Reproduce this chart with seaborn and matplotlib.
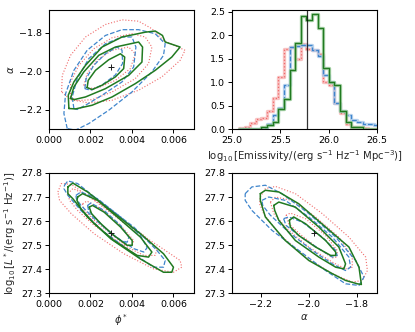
import matplotlib
matplotlib.use("Agg")
import matplotlib.pyplot as plt
import seaborn as sns
import numpy as np

# ------ DATA ------ #

truth = {"phi": 0.003, "alpha": -1.98, "logL": 27.55, "emis": 25.77}

bin_edges = [25.072, 25.130, 25.188, 25.246, 25.304, 25.362, 25.420, 25.478,
             25.536, 25.594, 25.652, 25.710, 25.768, 25.826, 25.884, 25.942,
             26.000, 26.058, 26.116, 26.174, 26.232, 26.290, 26.348, 26.406,
             26.464, 26.522]
hist_green = [0, 0, 0, 0.01, 0.04, 0.09, 0.16, 0.42, 0.65, 1.27, 1.84, 2.42, 2.33,
              2.46, 2.15, 1.30, 1.00, 0.95, 0.38, 0.15, 0.04, 0.04, 0, 0, 0]
hist_blue = [0, 0, 0, 0.01, 0.03, 0.10, 0.30, 0.45, 0.95, 1.75, 1.78, 1.80, 1.80,
             1.68, 1.55, 1.15, 1.00, 0.55, 0.38, 0.30, 0.20, 0.15, 0.12, 0.10, 0.08]
hist_red = [0.03, 0.05, 0.13, 0.22, 0.24, 0.38, 0.66, 1.12, 1.72, 1.75, 1.50, 1.82,
            1.72, 1.68, 1.60, 1.00, 0.95, 0.55, 0.35, 0.10, 0.05, 0.04, 0.02, 0, 0]

# contour outlines (inner, middle, outer)

# phi* vs alpha
pa_green = [
    [(0.00184, -2.084), (0.00189, -2.047), (0.00224, -1.995), (0.00288, -1.940), (0.00344, -1.909),
     (0.00365, -1.926), (0.00360, -1.986), (0.00320, -2.029), (0.00256, -2.072), (0.00208, -2.095)],
    [(0.00104, -2.141), (0.00120, -2.081), (0.00168, -2.003), (0.00240, -1.917), (0.00320, -1.874),
     (0.00432, -1.848), (0.00451, -1.874), (0.00448, -1.952), (0.00384, -2.021), (0.00272, -2.090),
     (0.00176, -2.133), (0.00120, -2.147)],
    [(0.00096, -2.193), (0.00093, -2.124), (0.00120, -2.055), (0.00176, -1.969), (0.00256, -1.874),
     (0.00352, -1.822), (0.00464, -1.797), (0.00512, -1.791), (0.00547, -1.814), (0.00560, -1.848),
     (0.00632, -1.874), (0.00592, -1.926), (0.00512, -1.995), (0.00416, -2.064), (0.00304, -2.133),
     (0.00208, -2.176), (0.00128, -2.195)],
]
pa_blue = [
    [(0.00173, -2.090), (0.00179, -2.038), (0.00216, -1.969), (0.00272, -1.909), (0.00328, -1.874),
     (0.00352, -1.890), (0.00355, -1.959), (0.00320, -2.019), (0.00256, -2.071), (0.00200, -2.098)],
    [(0.00120, -2.193), (0.00112, -2.133), (0.00136, -2.038), (0.00192, -1.934), (0.00272, -1.857),
     (0.00352, -1.822), (0.00400, -1.822), (0.00419, -1.874), (0.00408, -1.978), (0.00352, -2.055),
     (0.00256, -2.124), (0.00176, -2.176), (0.00136, -2.198)],
    [(0.00088, -2.297), (0.00072, -2.219), (0.00080, -2.116), (0.00120, -1.995), (0.00184, -1.891),
     (0.00272, -1.814), (0.00352, -1.784), (0.00432, -1.784), (0.00512, -1.805), (0.00560, -1.857),
     (0.00552, -1.917), (0.00496, -2.003), (0.00400, -2.107), (0.00288, -2.202), (0.00192, -2.271),
     (0.00128, -2.305)],
]
pa_red = [
    [(0.00168, -2.072), (0.00184, -2.012), (0.00232, -1.943), (0.00304, -1.891), (0.00384, -1.874),
     (0.00416, -1.909), (0.00392, -1.986), (0.00320, -2.047), (0.00240, -2.084), (0.00184, -2.090)],
    [(0.00104, -2.133), (0.00104, -2.055), (0.00144, -1.969), (0.00216, -1.883), (0.00304, -1.826),
     (0.00400, -1.805), (0.00464, -1.822), (0.00496, -1.874), (0.00480, -1.960), (0.00416, -2.038),
     (0.00304, -2.107), (0.00208, -2.147), (0.00136, -2.152)],
    [(0.00061, -2.107), (0.00064, -2.021), (0.00104, -1.917), (0.00176, -1.822), (0.00272, -1.757),
     (0.00352, -1.733), (0.00432, -1.740), (0.00496, -1.779), (0.00552, -1.840), (0.00656, -1.891),
     (0.00632, -1.943), (0.00544, -2.029), (0.00432, -2.098), (0.00304, -2.150), (0.00192, -2.164),
     (0.00104, -2.147)],
]

# phi* vs log L*
pl_green = [
    [(0.00194, 27.658), (0.00210, 27.665), (0.00266, 27.637), (0.00345, 27.575), (0.00401, 27.519),
     (0.00401, 27.499), (0.00377, 27.499), (0.00313, 27.540), (0.00250, 27.589), (0.00205, 27.631)],
    [(0.00138, 27.700), (0.00162, 27.714), (0.00234, 27.686), (0.00329, 27.617), (0.00441, 27.533),
     (0.00496, 27.471), (0.00480, 27.450), (0.00425, 27.457), (0.00313, 27.519), (0.00218, 27.589),
     (0.00154, 27.651), (0.00135, 27.686)],
    [(0.00091, 27.742), (0.00115, 27.758), (0.00186, 27.721), (0.00298, 27.644), (0.00441, 27.547),
     (0.00552, 27.464), (0.00600, 27.408), (0.00592, 27.387), (0.00552, 27.387), (0.00441, 27.442),
     (0.00298, 27.526), (0.00186, 27.616), (0.00115, 27.693), (0.00091, 27.714)],
]
pl_blue = [
    [(0.00186, 27.665), (0.00202, 27.675), (0.00266, 27.644), (0.00345, 27.582), (0.00385, 27.533),
     (0.00377, 27.512), (0.00345, 27.519), (0.00282, 27.561), (0.00226, 27.610), (0.00191, 27.644)],
    [(0.00130, 27.707), (0.00154, 27.721), (0.00234, 27.693), (0.00345, 27.617), (0.00441, 27.540),
     (0.00473, 27.489), (0.00457, 27.471), (0.00409, 27.485), (0.00313, 27.540), (0.00218, 27.610),
     (0.00154, 27.665), (0.00132, 27.693)],
    [(0.00075, 27.749), (0.00091, 27.767), (0.00138, 27.756), (0.00250, 27.679), (0.00409, 27.575),
     (0.00520, 27.478), (0.00560, 27.436), (0.00552, 27.408), (0.00504, 27.408), (0.00409, 27.464),
     (0.00266, 27.554), (0.00154, 27.644), (0.00091, 27.707), (0.00072, 27.735)],
]
pl_red = [
    [(0.00162, 27.672), (0.00183, 27.683), (0.00250, 27.651), (0.00345, 27.582), (0.00409, 27.519),
     (0.00401, 27.499), (0.00369, 27.499), (0.00298, 27.547), (0.00218, 27.603), (0.00170, 27.644)],
    [(0.00091, 27.714), (0.00115, 27.735), (0.00186, 27.707), (0.00313, 27.631), (0.00457, 27.540),
     (0.00520, 27.485), (0.00512, 27.457), (0.00457, 27.457), (0.00345, 27.506), (0.00218, 27.582),
     (0.00138, 27.644), (0.00099, 27.686)],
    [(0.00043, 27.721), (0.00059, 27.756), (0.00107, 27.753), (0.00218, 27.686), (0.00377, 27.582),
     (0.00536, 27.492), (0.00632, 27.436), (0.00640, 27.408), (0.00600, 27.387), (0.00504, 27.401),
     (0.00361, 27.464), (0.00218, 27.547), (0.00107, 27.631), (0.00051, 27.686)],
]

# alpha vs log L*
al_green = [
    [(-2.081, 27.603), (-2.063, 27.617), (-2.014, 27.589), (-1.930, 27.519), (-1.888, 27.471),
     (-1.888, 27.457), (-1.909, 27.457), (-1.972, 27.492), (-2.042, 27.540), (-2.077, 27.575)],
    [(-2.146, 27.665), (-2.125, 27.679), (-2.056, 27.658), (-1.958, 27.575), (-1.875, 27.492),
     (-1.847, 27.422), (-1.854, 27.401), (-1.888, 27.408), (-1.958, 27.450), (-2.056, 27.519),
     (-2.125, 27.603), (-2.142, 27.644)],
    [(-2.202, 27.714), (-2.181, 27.728), (-2.125, 27.721), (-2.042, 27.672), (-1.930, 27.575),
     (-1.833, 27.492), (-1.791, 27.408), (-1.781, 27.336), (-1.798, 27.339), (-1.847, 27.353),
     (-1.902, 27.381), (-2.000, 27.436), (-2.098, 27.519), (-2.181, 27.617), (-2.202, 27.686)],
]
al_blue = [
    [(-2.105, 27.610), (-2.084, 27.617), (-2.028, 27.596), (-1.944, 27.533), (-1.888, 27.478),
     (-1.882, 27.457), (-1.902, 27.450), (-1.958, 27.485), (-2.042, 27.540), (-2.095, 27.582)],
    [(-2.195, 27.686), (-2.167, 27.700), (-2.098, 27.686), (-2.000, 27.617), (-1.902, 27.533),
     (-1.833, 27.450), (-1.826, 27.408), (-1.847, 27.394), (-1.902, 27.422), (-1.986, 27.478),
     (-2.084, 27.554), (-2.160, 27.624), (-2.192, 27.665)],
    [(-2.265, 27.714), (-2.237, 27.742), (-2.181, 27.749), (-2.112, 27.714), (-2.000, 27.631),
     (-1.888, 27.533), (-1.805, 27.436), (-1.770, 27.367), (-1.791, 27.332), (-1.847, 27.339),
     (-1.930, 27.394), (-2.042, 27.478), (-2.153, 27.561), (-2.237, 27.644), (-2.265, 27.686)],
]
al_red = [
    [(-2.095, 27.624), (-2.077, 27.633), (-2.014, 27.610), (-1.930, 27.540), (-1.882, 27.478),
     (-1.882, 27.450), (-1.902, 27.447), (-1.965, 27.489), (-2.035, 27.544), (-2.084, 27.589)],
    [(-2.160, 27.679), (-2.139, 27.700), (-2.070, 27.686), (-1.972, 27.617), (-1.875, 27.533),
     (-1.819, 27.450), (-1.819, 27.408), (-1.847, 27.401), (-1.902, 27.429), (-2.000, 27.492),
     (-2.091, 27.568), (-2.146, 27.631)],
    [(-2.202, 27.700), (-2.181, 27.735), (-2.139, 27.744), (-2.056, 27.714), (-1.944, 27.631),
     (-1.833, 27.533), (-1.763, 27.450), (-1.756, 27.394), (-1.777, 27.353), (-1.819, 27.346),
     (-1.902, 27.381), (-2.014, 27.450), (-2.125, 27.547), (-2.188, 27.631), (-2.205, 27.672)],
]

# ------ STYLE ------ #

sns.set_theme(style="ticks")
plt.rcParams["font.family"] = ["DejaVu Sans"]
plt.rcParams.update({
    "axes.edgecolor": "black",
    "axes.linewidth": 0.8,
    "xtick.color": "black",
    "ytick.color": "black",
    "xtick.labelsize": 6.8,
    "ytick.labelsize": 6.8,
    "axes.labelsize": 7.3,
    "axes.labelpad": 2.5,
    "xtick.major.size": 2.8,
    "ytick.major.size": 2.8,
    "xtick.major.pad": 2.0,
    "ytick.major.pad": 2.0,
    "xtick.major.width": 0.7,
    "ytick.major.width": 0.7,
    "axes.unicode_minus": True,
})

GREEN = "#217a21"
BLUE = "#3f85cc"
RED = "#f06a6a"
styles = {
    "green": dict(color=GREEN, linestyle="-", lw=1.1),
    "blue": dict(color=BLUE, linestyle="--", lw=0.9),
    "red": dict(color=RED, linestyle=":", lw=0.8),
}

fig = plt.figure(figsize=(4.15, 3.32), dpi=100)
ax_pa = fig.add_axes([0.118, 0.611, 0.350, 0.360])
ax_hist = fig.add_axes([0.559, 0.611, 0.350, 0.360])
ax_pl = fig.add_axes([0.118, 0.117, 0.350, 0.362])
ax_al = fig.add_axes([0.559, 0.117, 0.350, 0.362])


def draw_contours(ax, levels, style):
    for outline in levels:
        xs = [p[0] for p in outline] + [outline[0][0]]
        ys = [p[1] for p in outline] + [outline[0][1]]
        sns.lineplot(x=xs, y=ys, sort=False, estimator=None, ax=ax, **style)


# ------ CONTOUR PANELS ------ #

for ax, sets in [(ax_pa, (pa_red, pa_blue, pa_green)),
                 (ax_pl, (pl_red, pl_blue, pl_green)),
                 (ax_al, (al_red, al_blue, al_green))]:
    for levels, key in zip(sets, ["red", "blue", "green"]):
        draw_contours(ax, levels, styles[key])

ax_pa.plot(truth["phi"], truth["alpha"], "k+", ms=4, mew=0.7)
ax_pl.plot(truth["phi"], truth["logL"], "k+", ms=4, mew=0.7)
ax_al.plot(truth["alpha"], truth["logL"], "k+", ms=4, mew=0.7)

ax_pa.set_xlim(0, 0.007)
ax_pa.set_ylim(-2.3, -1.68)
ax_pa.set_xticks([0, 0.002, 0.004, 0.006])
ax_pa.set_yticks([-2.2, -2.0, -1.8])
ax_pa.set_ylabel(r"$\alpha$")

ax_pl.set_xlim(0, 0.007)
ax_pl.set_ylim(27.3, 27.8)
ax_pl.set_xticks([0, 0.002, 0.004, 0.006])
ax_pl.set_xlabel(r"$\phi^*$")
ax_pl.set_ylabel(r"$\log_{10}[L^*/(\rm erg\ s^{-1}\ Hz^{-1})]$")

ax_al.set_xlim(-2.32, -1.715)
ax_al.set_ylim(27.3, 27.8)
ax_al.set_xticks([-2.2, -2.0, -1.8])
ax_al.set_xlabel(r"$\alpha$")

# ------ HISTOGRAM ------ #

centers = [(a + b) / 2 for a, b in zip(bin_edges[:-1], bin_edges[1:])]
hist_sets = [(hist_red, RED, "#f7b3b3", ":"),
             (hist_blue, BLUE, "#a8c8ea", "--"),
             (hist_green, GREEN, "#8cc48c", "-")]
for heights, dark, light, ls in hist_sets:
    sns.histplot(x=centers, weights=heights, bins=bin_edges, element="step",
                 fill=False, color=light, lw=2.4, alpha=0.8, ax=ax_hist)
    sns.histplot(x=centers, weights=heights, bins=bin_edges, element="step",
                 fill=False, color=dark, lw=0.9, linestyle=ls, ax=ax_hist)

ax_hist.axvline(truth["emis"], color="black", lw=0.9, alpha=0.8)
ax_hist.set_xlim(25.0, 26.5)
ax_hist.set_ylim(0, 2.55)
ax_hist.set_xticks([25.0, 25.5, 26.0, 26.5])
ax_hist.set_yticks([0, 0.5, 1.0, 1.5, 2.0, 2.5])
ax_hist.set_ylabel("")
ax_hist.set_xlabel(r"$\log_{10}$[Emissivity/(erg s$^{-1}$ Hz$^{-1}$ Mpc$^{-3}$)]")

for ax in [ax_pa, ax_hist, ax_pl, ax_al]:
    for side in ["top", "right"]:
        ax.spines[side].set_visible(True)

fig.savefig("out.png", dpi=100)
